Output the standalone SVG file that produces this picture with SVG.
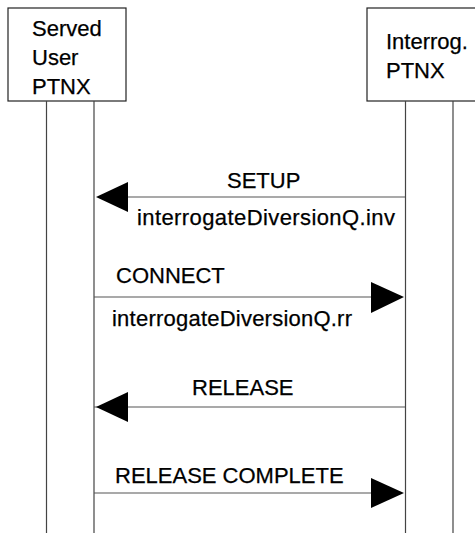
<svg xmlns="http://www.w3.org/2000/svg" width="475" height="533" viewBox="0 0 475 533">
<style>
.box{fill:#fff;stroke:#222;stroke-width:1.2}
.life{stroke:#444;stroke-width:1.2;fill:none}
.msg{stroke:#555;stroke-width:1.2;fill:none}
.head{fill:#000}
text{font-family:"Liberation Sans",Arial,sans-serif;font-size:22px;fill:#000;stroke:#000;stroke-width:0.25}
</style>
<rect width="475" height="533" fill="#fff"/>
<g id="served-user-ptnx">
<rect class="box" x="8" y="8" width="118" height="93"/>
<text x="32" y="36">Served</text>
<text x="32" y="65">User</text>
<text x="32" y="94">PTNX</text>
<line class="life" x1="46.5" y1="101" x2="46.5" y2="533"/>
<line class="life" x1="94" y1="101" x2="94" y2="533"/>
</g>
<g id="interrog-ptnx">
<rect class="box" x="367" y="8" width="120" height="93"/>
<text x="386" y="49">Interrog.</text>
<text x="386" y="78">PTNX</text>
<line class="life" x1="405.5" y1="101" x2="405.5" y2="533"/>
<line class="life" x1="453" y1="101" x2="453" y2="533"/>
</g>
<g id="connectors">
<line class="msg" x1="127" y1="197" x2="405" y2="197"/>
<polygon class="head" points="96,197 128,182 128,212"/>
<text x="227" y="188">SETUP</text>
<text x="137" y="225" textLength="258" lengthAdjust="spacing">interrogateDiversionQ.inv</text>
<line class="msg" x1="94" y1="297" x2="372" y2="297"/>
<polygon class="head" points="404,297 371,282 371,313"/>
<text x="116" y="283">CONNECT</text>
<text x="112" y="326" textLength="240" lengthAdjust="spacing">interrogateDiversionQ.rr</text>
<line class="msg" x1="94" y1="407" x2="405" y2="407"/>
<polygon class="head" points="96,407 128,392 128,422"/>
<text x="192" y="395">RELEASE</text>
<line class="msg" x1="94" y1="493" x2="372" y2="493"/>
<polygon class="head" points="404,493 371,478 371,508"/>
<text x="115" y="483">RELEASE COMPLETE</text>
</g>
</svg>
